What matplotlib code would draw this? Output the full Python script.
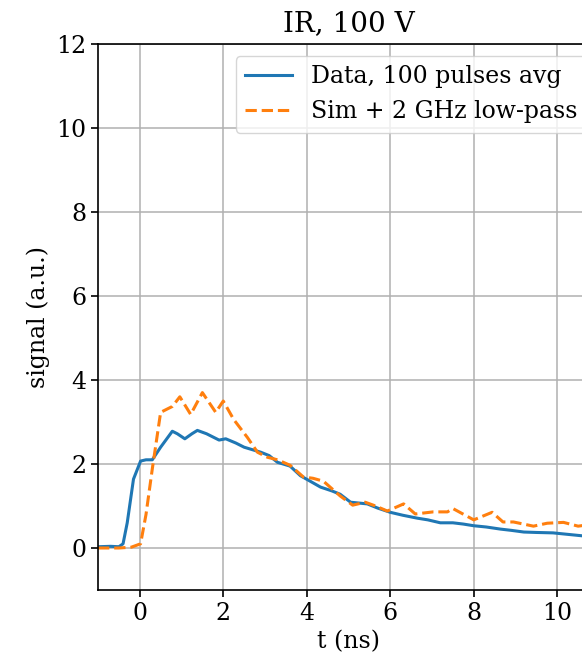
import matplotlib
matplotlib.use('Agg')
import matplotlib.pyplot as plt

# measured pulse, averaged over 100 shots
t_data = [-1.0, -0.7, -0.5, -0.4, -0.3, -0.15, 0.02, 0.15, 0.3, 0.5, 0.78, 0.9, 1.08, 1.25,
          1.38, 1.6, 1.9, 2.06, 2.3, 2.5, 2.9, 3.1, 3.3, 3.6, 3.85, 4.1, 4.33, 4.6, 4.8,
          5.05, 5.45, 5.7, 6.0, 6.3, 6.65, 6.9, 7.2, 7.5, 7.75, 8.0, 8.3, 8.64, 8.9, 9.2,
          9.5, 9.9, 10.2, 10.6, 11.0]
v_data = [0.03, 0.04, 0.03, 0.1, 0.6, 1.64, 2.07, 2.1, 2.1, 2.4, 2.78, 2.72, 2.6, 2.72,
          2.8, 2.72, 2.57, 2.6, 2.5, 2.4, 2.28, 2.2, 2.04, 1.95, 1.72, 1.58, 1.45, 1.36, 1.28,
          1.09, 1.05, 0.95, 0.85, 0.78, 0.71, 0.67, 0.6, 0.6, 0.57, 0.53, 0.5, 0.45, 0.42,
          0.38, 0.37, 0.36, 0.33, 0.29, 0.27]

# simulation after 2 GHz low-pass
t_sim = [-1.0, -0.5, -0.2, 0.02, 0.15, 0.3, 0.5, 0.78, 0.96, 1.22, 1.5, 1.82, 2.0, 2.25,
         2.58, 2.82, 3.06, 3.3, 3.6, 3.92, 4.15, 4.4, 4.8, 5.1, 5.4, 5.65, 5.93, 6.32,
         6.6, 7.03, 7.37, 7.5, 8.0, 8.44, 8.7, 8.95, 9.43, 9.76, 10.15, 10.5, 10.8, 11.0]
v_sim = [0.0, 0.0, 0.02, 0.1, 0.8, 1.88, 3.23, 3.37, 3.6, 3.18, 3.7, 3.23, 3.5, 3.06,
         2.63, 2.28, 2.16, 2.1, 1.97, 1.69, 1.66, 1.59, 1.24, 1.02, 1.09, 1.0, 0.88, 1.05,
         0.81, 0.86, 0.86, 0.94, 0.67, 0.85, 0.62, 0.62, 0.52, 0.59, 0.61, 0.52, 0.56, 0.5]

plt.rcParams['font.family'] = 'DejaVu Serif'
plt.rcParams['font.size'] = 17

fig = plt.figure(figsize=(5.82, 6.59), dpi=100)
# axes runs past the right edge of the figure, as in the cropped original
ax = fig.add_axes([98 / 582, 69 / 659, 501 / 582, 546 / 659])

ax.plot(t_data, v_data, color='#1f77b4', lw=2.2, label='Data, 100 pulses avg')
ax.plot(t_sim, v_sim, color='#ff7f0e', lw=2.2, ls='--', label='Sim + 2 GHz low-pass')

ax.set_xlim(-1, 11)
ax.set_ylim(-1, 12)
ax.set_xticks([0, 2, 4, 6, 8, 10])
ax.set_yticks([0, 2, 4, 6, 8, 10, 12])
ax.grid(True, color='#b0b0b0', lw=1.1)
for s in ax.spines.values():
    s.set_linewidth(1.2)
ax.tick_params(width=1.2, length=5)

ax.set_xlabel('t (ns)')
ax.set_ylabel('signal (a.u.)')
ax.set_title('IR, 100 V', fontsize=20, pad=9)
ax.legend(loc='upper right')

fig.savefig('out.png', dpi=100)
